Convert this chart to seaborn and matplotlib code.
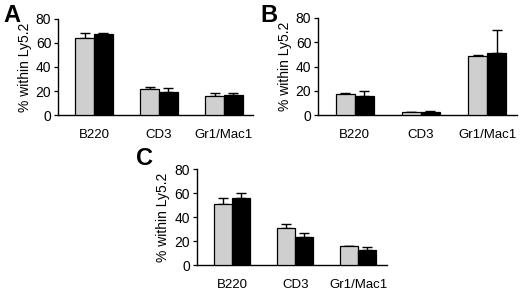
import numpy as np
import pandas as pd
import seaborn as sns
import matplotlib.pyplot as plt

sns.set_theme(style="ticks")
plt.rcParams['font.family'] = ['Liberation Sans', 'DejaVu Sans']
plt.rcParams['text.color'] = 'black'
plt.rcParams['axes.labelcolor'] = 'black'
plt.rcParams['xtick.color'] = 'black'
plt.rcParams['ytick.color'] = 'black'

# --- Data ---
categories = ["B220", "CD3", "Gr1/Mac1"]
groups = ["control", "test"]

a_gray = [64, 22, 15.5]
a_black = [67, 19.5, 16.5]
a_gray_err = [4, 1.5, 3]
a_black_err = [1, 3, 1.5]

b_gray = [17, 2.5, 49]
b_black = [16, 2.5, 51]
b_gray_err = [1.5, 0.3, 0.5]
b_black_err = [4, 1, 19]

c_gray = [51, 31, 15.5]
c_black = [56, 23, 12.5]
c_gray_err = [4.5, 3, 0.8]
c_black_err = [4, 3.5, 2.5]

palette = {"control": "#cfcfcf", "test": "#000000"}

fig = plt.figure(figsize=(5.2, 2.9), dpi=100)
ax_a = fig.add_axes([0.112, 0.603, 0.375, 0.332])
ax_b = fig.add_axes([0.612, 0.603, 0.382, 0.335])
ax_c = fig.add_axes([0.379, 0.086, 0.365, 0.331])


def draw_panel(ax, gray, black, gray_err, black_err, letter, lx, ly):
    df = pd.DataFrame({
        "cell": categories * 2,
        "group": ["control"] * 3 + ["test"] * 3,
        "value": gray + black,
    })
    sns.barplot(data=df, x="cell", y="value", hue="group", order=categories,
                hue_order=groups, palette=palette, width=0.57, errorbar=None,
                edgecolor="black", linewidth=0.9, legend=False, ax=ax, zorder=3)
    errs = gray_err + black_err
    vals = gray + black
    # patches come in hue order: control bars then test bars
    for p, v, e in zip(ax.patches, vals, errs):
        xc = p.get_x() + p.get_width() / 2
        ax.errorbar(xc, v, yerr=[[0], [e]], fmt="none", ecolor="black",
                    elinewidth=1.0, capsize=3.5, capthick=1.0, zorder=2)
    ax.set_ylim(0, 80)
    ax.set_yticks([0, 20, 40, 60, 80])
    ax.set_xlim(-0.55, 2.45)
    ax.set_xlabel("")
    ax.set_ylabel("% within Ly5.2", fontsize=10, labelpad=3)
    ax.tick_params(axis="y", labelsize=10, length=3, width=0.9, pad=2)
    ax.tick_params(axis="x", labelsize=9.5, length=0, pad=10)
    for s in ["left", "bottom"]:
        ax.spines[s].set_linewidth(1.0)
        ax.spines[s].set_color("black")
    sns.despine(ax=ax)
    fig.text(lx, ly, letter, fontsize=17, fontweight="bold", ha="left", va="center")


draw_panel(ax_a, a_gray, a_black, a_gray_err, a_black_err, "A", 0.006, 0.945)
draw_panel(ax_b, b_gray, b_black, b_gray_err, b_black_err, "B", 0.500, 0.945)
draw_panel(ax_c, c_gray, c_black, c_gray_err, c_black_err, "C", 0.262, 0.455)

fig.savefig("out.png", dpi=100)
plt.close(fig)
